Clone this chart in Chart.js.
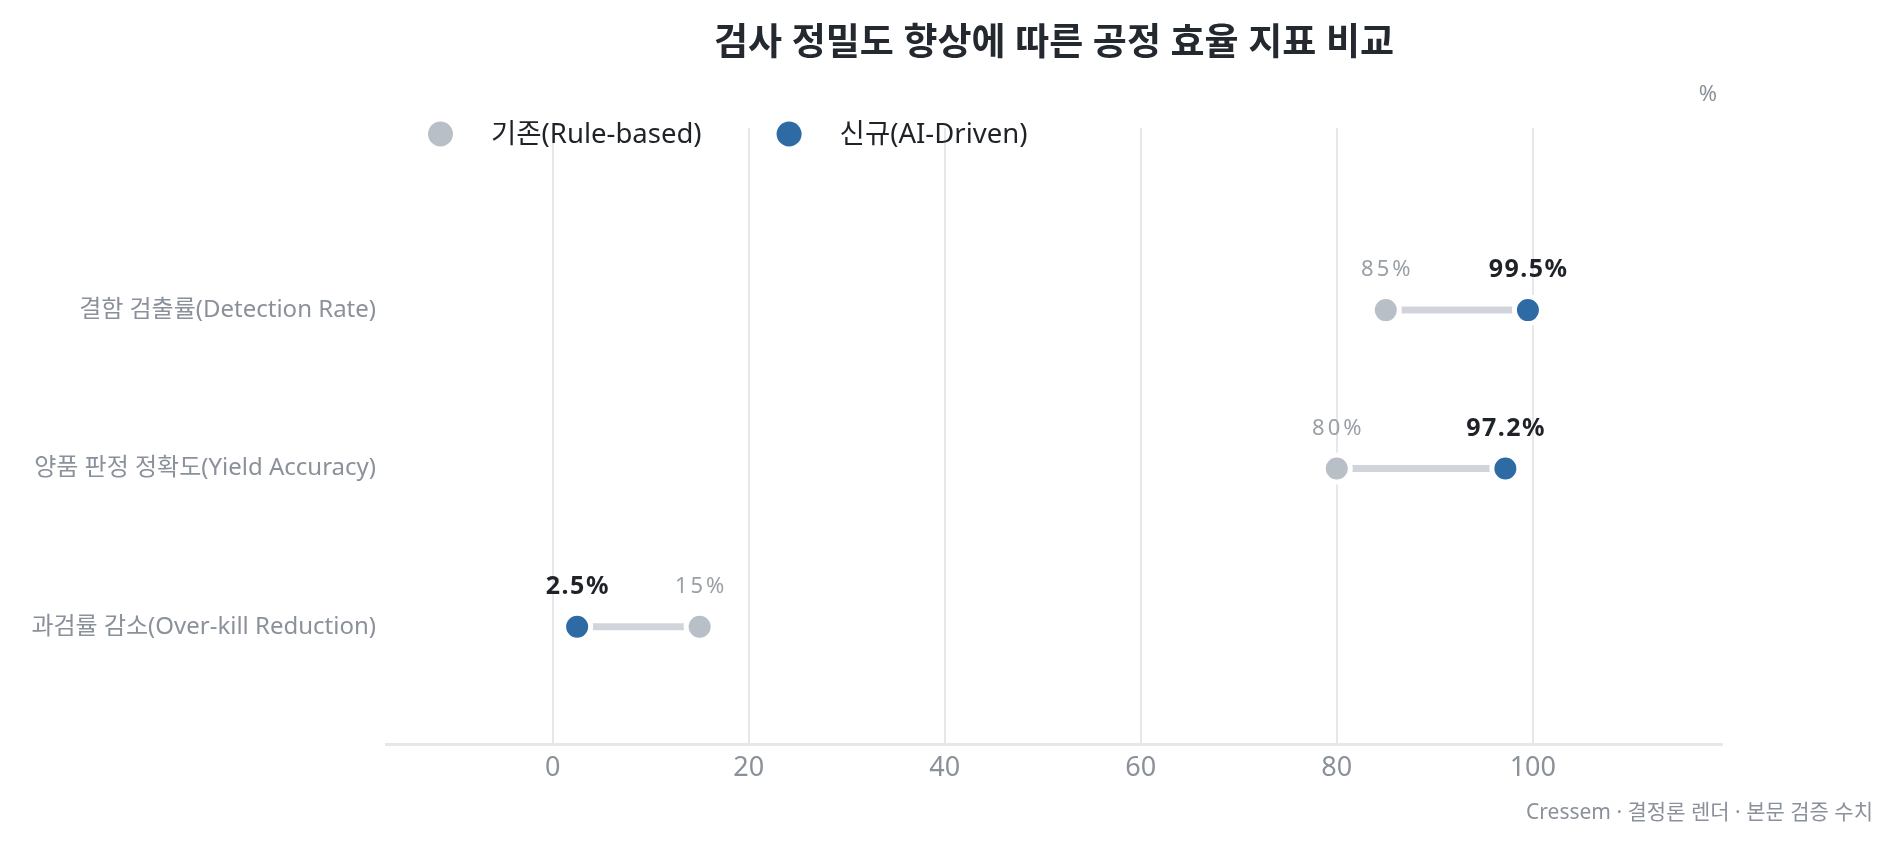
<!DOCTYPE html>
<html lang="ko">
<head>
<meta charset="utf-8">
<title>검사 정밀도 향상에 따른 공정 효율 지표 비교</title>
<script src="https://cdn.jsdelivr.net/npm/chart.js@4.4.1/dist/chart.umd.min.js"></script>
<style>
    html, body { margin: 0; padding: 0; background: #fff; }
    #wrap { width: 1902px; height: 852px; position: relative; }
</style>
</head>
<body>
<div id="wrap"><canvas id="dumbbellChart"></canvas></div>
<script>
// data
const categories = ['결함 검출률(Detection Rate)', '양품 판정 정확도(Yield Accuracy)', '과검률 감소(Over-kill Reduction)'];
const legacyValues = [85, 80, 15];
const aiValues = [99.5, 97.2, 2.5];
const seriesNames = ['기존(Rule-based)', '신규(AI-Driven)'];
const xTicks = [0, 20, 40, 60, 80, 100];

const FONT = "'Noto Sans', 'Noto Sans CJK KR', sans-serif";
const GRAY_DOT = '#b8bfc7';
const BLUE_DOT = '#2e6ba5';
const TEXT_GRAY = '#8b919b';
const TEXT_DARK = '#1f2328';

document.addEventListener('DOMContentLoaded', () => {
    const ctx = document.getElementById('dumbbellChart').getContext('2d');

    // connector line per category, drawn under the dots
    const connectors = categories.map((name, i) => ({
        type: 'line',
        label: name,
        data: [{ x: legacyValues[i], y: i }, { x: aiValues[i], y: i }],
        borderColor: '#d1d5db',
        borderWidth: 7,
        borderCapStyle: 'butt',
        pointRadius: 0,
        order: 2
    }));

    const dotStyle = {
        pointRadius: 13.5,
        pointHoverRadius: 13.5,
        borderWidth: 5,
        borderColor: '#ffffff',
        order: 1
    };

    // labels, legend, title and footer
    const decorPlugin = {
        id: 'decor',
        afterDraw(chart) {
            const c = chart.ctx;
            const area = chart.chartArea;
            c.save();

            // title
            c.fillStyle = '#24292f';
            c.font = 'bold 37px ' + FONT;
            c.textAlign = 'center';
            c.textBaseline = 'middle';
            c.fillText('검사 정밀도 향상에 따른 공정 효율 지표 비교', (area.left + area.right) / 2, 44);

            // unit
            c.fillStyle = TEXT_GRAY;
            c.font = '22px ' + FONT;
            c.textAlign = 'right';
            c.fillText('%', area.right - 5, 95);

            // legend
            const colors = [GRAY_DOT, BLUE_DOT];
            let lx = 428;
            c.font = '27.5px ' + FONT;
            c.textAlign = 'left';
            seriesNames.forEach((name, i) => {
                c.fillStyle = colors[i];
                c.beginPath();
                c.arc(lx + 12.5, 134, 12.5, 0, Math.PI * 2);
                c.fill();
                c.fillStyle = TEXT_DARK;
                c.fillText(name, lx + 63, 135);
                lx += 63 + c.measureText(name).width + 75;
            });

            // value labels above dots
            const legacyMeta = chart.getDatasetMeta(categories.length);
            const aiMeta = chart.getDatasetMeta(categories.length + 1);
            c.textAlign = 'center';
            legacyMeta.data.forEach((pt, i) => {
                c.fillStyle = '#9aa0a8';
                c.font = '22px ' + FONT;
                c.letterSpacing = '3px';
                c.fillText(legacyValues[i] + '%', pt.x + 1.5, pt.y - 40);
            });
            aiMeta.data.forEach((pt, i) => {
                c.fillStyle = TEXT_DARK;
                c.font = 'bold 25px ' + FONT;
                c.letterSpacing = '1.5px';
                c.fillText(aiValues[i] + '%', pt.x + 0.75, pt.y - 40);
            });
            c.letterSpacing = '0px';

            // footer
            c.fillStyle = TEXT_GRAY;
            c.font = '21px ' + FONT;
            c.textAlign = 'right';
            c.fillText('Cressem · 결정론 렌더 · 본문 검증 수치', 1873, 813);
            c.restore();
        }
    };

    new Chart(ctx, {
        type: 'scatter',
        data: {
            datasets: [
                ...connectors,
                { label: seriesNames[0], data: legacyValues.map((v, i) => ({ x: v, y: i })), backgroundColor: GRAY_DOT, ...dotStyle },
                { label: seriesNames[1], data: aiValues.map((v, i) => ({ x: v, y: i })), backgroundColor: BLUE_DOT, ...dotStyle }
            ]
        },
        options: {
            responsive: true,
            maintainAspectRatio: false,
            devicePixelRatio: 1,
            animation: false,
            events: [],
            layout: {
                padding: { top: 128, right: 180, left: 0, bottom: 0 }
            },
            plugins: {
                legend: { display: false },
                title: { display: false },
                tooltip: { enabled: false }
            },
            scales: {
                x: {
                    type: 'linear',
                    min: -17,
                    max: 119.3,
                    afterBuildTicks: (scale) => {
                        scale.ticks = xTicks.map(v => ({ value: v }));
                    },
                    afterFit: (scale) => {
                        scale.height = 108;
                    },
                    grid: { color: '#e5e7eb', lineWidth: 2, drawTicks: false },
                    border: { display: true, color: '#e5e7eb', width: 3 },
                    ticks: {
                        color: TEXT_GRAY,
                        padding: 8,
                        font: { family: FONT, size: 27 }
                    }
                },
                y: {
                    type: 'linear',
                    reverse: true,
                    min: -1.15,
                    max: 2.74,
                    afterBuildTicks: (scale) => {
                        scale.ticks = categories.map((name, i) => ({ value: i }));
                    },
                    afterFit: (scale) => {
                        scale.width = 386;
                    },
                    grid: { display: false, drawTicks: false },
                    border: { display: false },
                    ticks: {
                        color: TEXT_GRAY,
                        padding: 10,
                        font: { family: FONT, size: 24 },
                        callback: (value) => categories[value]
                    }
                }
            }
        },
        plugins: [decorPlugin]
    });
});
</script>
</body>
</html>
